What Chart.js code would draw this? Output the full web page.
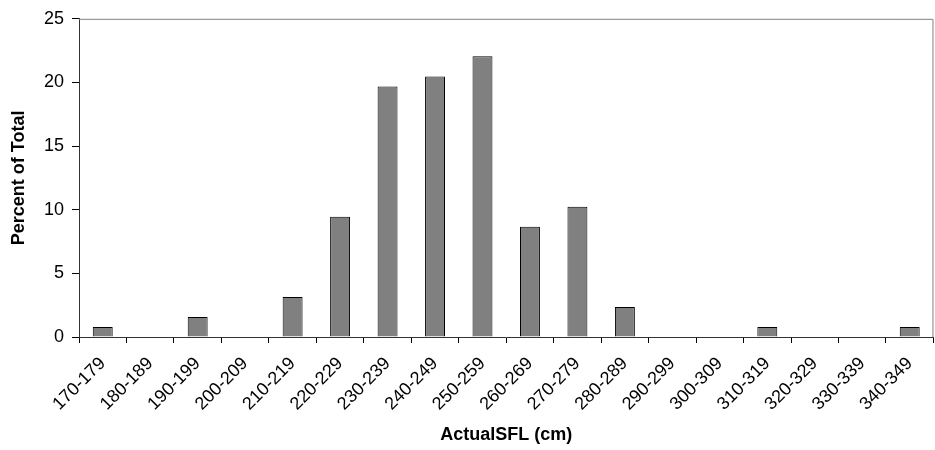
<!DOCTYPE html>
<html>
<head>
<meta charset="utf-8">
<script src="https://cdn.jsdelivr.net/npm/chart.js@4/dist/chart.umd.min.js"></script>
<style>
  html, body { margin: 0; padding: 0; background: #fff; }
  #wrap { width: 935px; height: 450px; position: relative; }
</style>
</head>
<body>
<div id="wrap"><canvas id="c" width="935" height="450"></canvas></div>
<script>
const categories = ["170-179","180-189","190-199","200-209","210-219","220-229","230-239","240-249","250-259","260-269","270-279","280-289","290-299","300-309","310-319","320-329","330-339","340-349"];
const percentOfTotal = [0.79, 0, 1.57, 0, 3.15, 9.45, 19.69, 20.47, 22.05, 8.66, 10.24, 2.36, 0, 0, 0.79, 0, 0, 0.79];
const yTicks = [0, 5, 10, 15, 20, 25];

const borderPlugin = {
  id: 'plotBorder',
  afterDraw(chart) {
    const {ctx, chartArea: a} = chart;
    ctx.save();
    ctx.strokeStyle = '#808080';
    ctx.lineWidth = 1;
    ctx.beginPath();
    ctx.moveTo(a.left, a.top + 0.5);
    ctx.lineTo(a.right - 0.5, a.top + 0.5);
    ctx.lineTo(a.right - 0.5, a.bottom);
    ctx.stroke();
    ctx.restore();
  }
};

new Chart(document.getElementById('c'), {
  type: 'bar',
  data: {
    labels: categories,
    datasets: [{
      data: percentOfTotal,
      backgroundColor: '#808080',
      borderColor: '#000000',
      borderWidth: 1,
      categoryPercentage: 1.0,
      barPercentage: 0.42
    }]
  },
  options: {
    responsive: false,
    animation: false,
    layout: { padding: { top: 16, right: 0, left: 0, bottom: 0 } },
    plugins: { legend: { display: false }, tooltip: { enabled: false } },
    scales: {
      x: {
        offset: true,
        grid: { display: true, offset: true, drawOnChartArea: false, tickLength: 6, color: '#000', lineWidth: 1 },
        border: { color: '#333', width: 1 },
        ticks: { maxRotation: 45, minRotation: 45, color: '#000', font: { family: 'Liberation Sans, Arial', size: 18 }, padding: 10, autoSkip: false },
        title: { display: true, text: 'ActualSFL (cm)', color: '#000', font: { family: 'Liberation Sans, Arial', size: 18, weight: 'bold' }, padding: { top: 4, bottom: 4 } },
        afterFit(scale) { scale.height = 113; }
      },
      y: {
        min: 0, max: 25,
        afterBuildTicks(scale) { scale.ticks = yTicks.map(v => ({ value: v })); },
        grid: { display: true, drawOnChartArea: false, tickLength: 7, color: '#000', lineWidth: 1 },
        border: { color: '#333', width: 1 },
        ticks: { color: '#000', font: { family: 'Liberation Sans, Arial', size: 18 }, padding: 8 },
        title: { display: true, text: 'Percent of Total', color: '#000', font: { family: 'Liberation Sans, Arial', size: 18, weight: 'bold' }, padding: { top: 8, bottom: 4 } },
        afterFit(scale) { scale.width = 79; }
      }
    }
  },
  plugins: [borderPlugin]
});
</script>
</body>
</html>
